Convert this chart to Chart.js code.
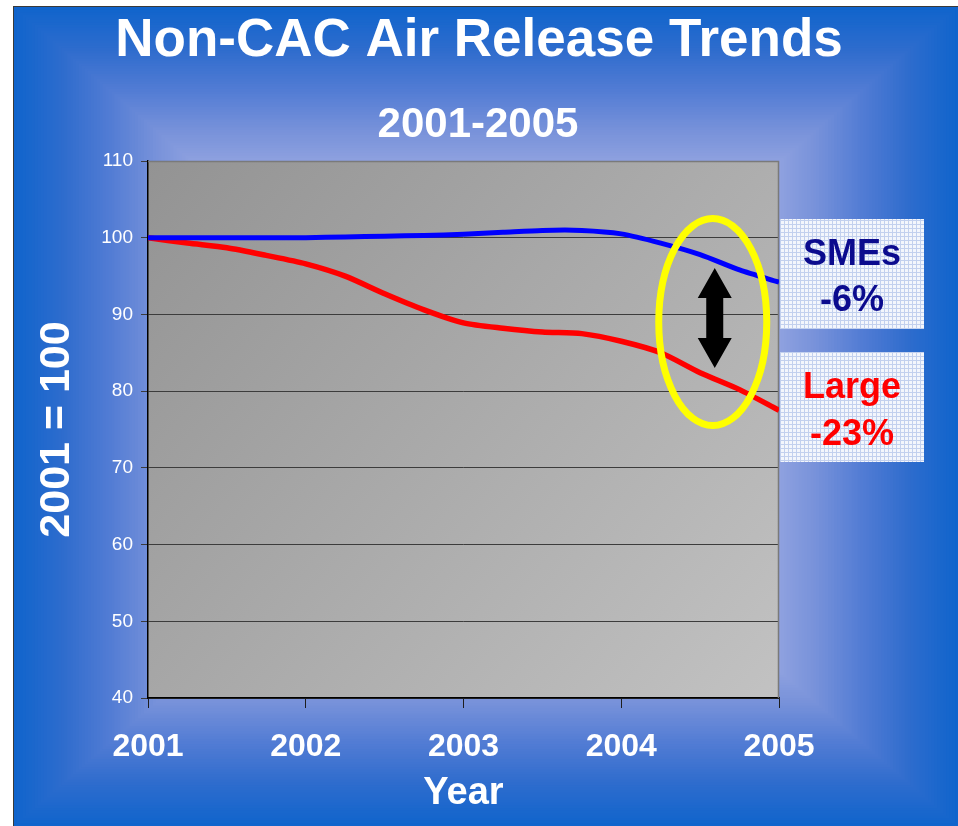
<!DOCTYPE html>
<html>
<head>
<meta charset="utf-8">
<script src="https://cdn.jsdelivr.net/npm/chart.js@4.4.1/dist/chart.umd.min.js"></script>
<style>
  html, body { margin: 0; padding: 0; background: #ffffff; }
  #wrap { position: absolute; left: 0; top: 0; width: 958px; height: 826px; }
</style>
</head>
<body>
<div id="wrap"><canvas id="c" width="958" height="826"></canvas></div>
<script>
// ---- data ----
const years = [2001, 2001.25, 2001.5, 2001.75, 2002, 2002.25, 2002.5, 2002.75, 2003,
               2003.25, 2003.5, 2003.75, 2004, 2004.25, 2004.5, 2004.75, 2005];
const smes  = [100, 100, 100, 100, 100, 100.1, 100.2, 100.3, 100.45,
               100.7, 100.95, 100.95, 100.5, 99.3, 97.8, 95.8, 94.2];
const large = [100, 99.3, 98.7, 97.7, 96.6, 95.0, 92.7, 90.6, 88.9,
               88.2, 87.7, 87.5, 86.5, 85.0, 82.4, 80.2, 77.5];
const xTickLabels = ['2001', '2002', '2003', '2004', '2005'];
const yTickValues = [40, 50, 60, 70, 80, 90, 100, 110];
const titleText = 'Non-CAC Air Release Trends';
const subtitleText = '2001-2005';
const yTitle = '2001 = 100';
const xTitle = 'Year';
const smesLabel = ['SMEs', '-6%'];
const largeLabel = ['Large', '-23%'];

const FONT = '"Liberation Sans", Arial, Helvetica, sans-serif';

function toPts(xs, ys) { return xs.map((x, i) => ({ x: x, y: ys[i] })); }

// rectangular "from center" blue gradient
const bgStops = [
  [0.0, [178, 190, 236]],
  [0.45, [172, 184, 233]],
  [0.6, [150, 166, 225]],
  [0.7, [120, 146, 218]],
  [0.8, [82, 124, 212]],
  [0.9, [46, 108, 205]],
  [1.0, [16, 100, 204]]
];
function bgColor(t) {
  for (let i = 1; i < bgStops.length; i++) {
    if (t <= bgStops[i][0]) {
      const a = bgStops[i - 1], b = bgStops[i];
      const f = (t - a[0]) / (b[0] - a[0]);
      const c = a[1].map((v, k) => Math.round(v + (b[1][k] - v) * f));
      return 'rgb(' + c.join(',') + ')';
    }
  }
  return 'rgb(' + bgStops[bgStops.length - 1][1].join(',') + ')';
}

function makePattern(ctx) {
  const p = document.createElement('canvas');
  p.width = 4; p.height = 4;
  const g = p.getContext('2d');
  g.fillStyle = '#f3f6fc';
  g.fillRect(0, 0, 4, 4);
  g.fillStyle = '#c2d0ee';
  g.fillRect(0, 0, 4, 1);
  g.fillRect(0, 0, 1, 4);
  return ctx.createPattern(p, 'repeat');
}

const backgroundPlugin = {
  id: 'bg',
  beforeDraw(chart) {
    const ctx = chart.ctx;
    const W = chart.width, H = chart.height;
    ctx.save();
    ctx.fillStyle = '#ffffff';
    ctx.fillRect(0, 0, W, H);
    const x0 = 14, y0 = 7, x1 = W, y1 = H;
    const cx = (x0 + x1) / 2, cy = (y0 + y1) / 2;
    const hw = (x1 - x0) / 2, hh = (y1 - y0) / 2;
    const N = 160;
    for (let i = N; i >= 1; i--) {
      const t = i / N;
      ctx.fillStyle = bgColor(t);
      ctx.fillRect(cx - hw * t, cy - hh * t, 2 * hw * t, 2 * hh * t);
    }
    ctx.fillStyle = '#3a3a3a';
    ctx.fillRect(13, 6, 1, H - 6);
    ctx.fillRect(13, 6, W - 13, 1);

    // titles
    ctx.fillStyle = '#ffffff';
    ctx.textAlign = 'center';
    ctx.textBaseline = 'alphabetic';
    ctx.font = 'bold 53px ' + FONT;
    ctx.fillText(titleText, 479, 56);
    ctx.font = 'bold 42px ' + FONT;
    ctx.fillText(subtitleText, 478, 137);

    // plot area grey gradient
    const a = chart.chartArea;
    const g = ctx.createLinearGradient(a.left, a.top, a.right, a.bottom);
    g.addColorStop(0, '#939393');
    g.addColorStop(1, '#c2c2c2');
    ctx.fillStyle = g;
    ctx.fillRect(a.left, a.top, a.right - a.left, a.bottom - a.top);
    ctx.restore();
  },
  beforeDatasetsDraw(chart) {
    const ctx = chart.ctx, a = chart.chartArea;
    ctx.save();
    ctx.strokeStyle = '#7a7a7a';
    ctx.lineWidth = 1.5;
    ctx.beginPath();
    ctx.moveTo(a.left, a.top + 0.5);
    ctx.lineTo(a.right - 0.5, a.top + 0.5);
    ctx.lineTo(a.right - 0.5, a.bottom);
    ctx.stroke();
    ctx.restore();
  },
  afterDraw(chart) {
    const ctx = chart.ctx, a = chart.chartArea;
    const xs = chart.scales.x, ys = chart.scales.y;
    ctx.save();
    // yellow ellipse
    const ex = xs.getPixelForValue(2004.58), ey = ys.getPixelForValue(89.0);
    ctx.strokeStyle = '#ffff00';
    ctx.lineWidth = 7;
    ctx.beginPath();
    ctx.ellipse(ex, ey, 54, 103.5, 0, 0, Math.PI * 2);
    ctx.stroke();
    // black double arrow
    const ax = ex + 2;
    const top = ey - 54, bot = ey + 46;
    const hw = 17, sw = 8.5, hh = 30;
    ctx.fillStyle = '#000000';
    ctx.beginPath();
    ctx.moveTo(ax, top);
    ctx.lineTo(ax + hw, top + hh);
    ctx.lineTo(ax + sw, top + hh);
    ctx.lineTo(ax + sw, bot - hh);
    ctx.lineTo(ax + hw, bot - hh);
    ctx.lineTo(ax, bot);
    ctx.lineTo(ax - hw, bot - hh);
    ctx.lineTo(ax - sw, bot - hh);
    ctx.lineTo(ax - sw, top + hh);
    ctx.lineTo(ax - hw, top + hh);
    ctx.closePath();
    ctx.fill();

    // label boxes
    const pat = makePattern(ctx);
    const bx = a.right + 1, bw = 144;
    ctx.fillStyle = pat;
    ctx.fillRect(bx, 219, bw, 110);
    ctx.fillRect(bx, 352, bw, 110);
    ctx.textAlign = 'center';
    ctx.textBaseline = 'alphabetic';
    ctx.font = 'bold 36px ' + FONT;
    const tx = bx + 72;
    ctx.fillStyle = '#0b0b8e';
    ctx.fillText(smesLabel[0], tx, 265);
    ctx.fillText(smesLabel[1], tx, 311);
    ctx.fillStyle = '#ff0000';
    ctx.fillText(largeLabel[0], tx, 398);
    ctx.fillText(largeLabel[1], tx, 445);
    ctx.restore();
  }
};

new Chart(document.getElementById('c'), {
  type: 'line',
  data: {
    datasets: [
      { label: 'SMEs', data: toPts(years, smes), borderColor: '#0000ff', borderWidth: 5,
        pointRadius: 0, tension: 0.25, fill: false },
      { label: 'Large', data: toPts(years, large), borderColor: '#ff0000', borderWidth: 5.5,
        pointRadius: 0, tension: 0.25, fill: false }
    ]
  },
  options: {
    responsive: false,
    animation: false,
    devicePixelRatio: 1,
    layout: { padding: { top: 161, right: 179, left: 0, bottom: 0 } },
    plugins: { legend: { display: false }, tooltip: { enabled: false }, title: { display: false } },
    scales: {
      x: {
        type: 'linear', min: 2001, max: 2005,
        afterFit(s) { s.height = 128; s.paddingLeft = 0; s.paddingRight = 0; },
        afterBuildTicks(s) { s.ticks = xTickLabels.map(v => ({ value: Number(v) })); },
        ticks: {
          callback: (v) => xTickLabels[Math.round(v) - 2001],
          color: '#ffffff', font: { family: FONT, size: 32, weight: 'bold' }, padding: 20,
          maxRotation: 0, autoSkip: false
        },
        grid: { drawOnChartArea: false, drawTicks: true, tickLength: 10, color: '#1e1e1e' },
        border: { display: true, color: '#000000', width: 1.5 },
        title: { display: true, text: xTitle, color: '#ffffff',
                 font: { family: FONT, size: 38, weight: 'bold' }, padding: { top: 0, bottom: 10 } }
      },
      y: {
        min: 40, max: 110,
        afterFit(s) { s.width = 148; s.paddingTop = 0; s.paddingBottom = 0; },
        afterBuildTicks(s) { s.ticks = yTickValues.map(v => ({ value: v })); },
        ticks: { color: '#ffffff', font: { family: FONT, size: 19 }, padding: 8, stepSize: 10 },
        grid: { color: '#3c3c3c', lineWidth: 1, drawTicks: true, tickLength: 7 },
        border: { display: true, color: '#000000', width: 1.5 },
        title: { display: true, text: yTitle, color: '#ffffff',
                 font: { family: FONT, size: 43, weight: 'bold' }, padding: { top: 31, bottom: 0 } }
      }
    }
  },
  plugins: [backgroundPlugin]
});
</script>
</body>
</html>
